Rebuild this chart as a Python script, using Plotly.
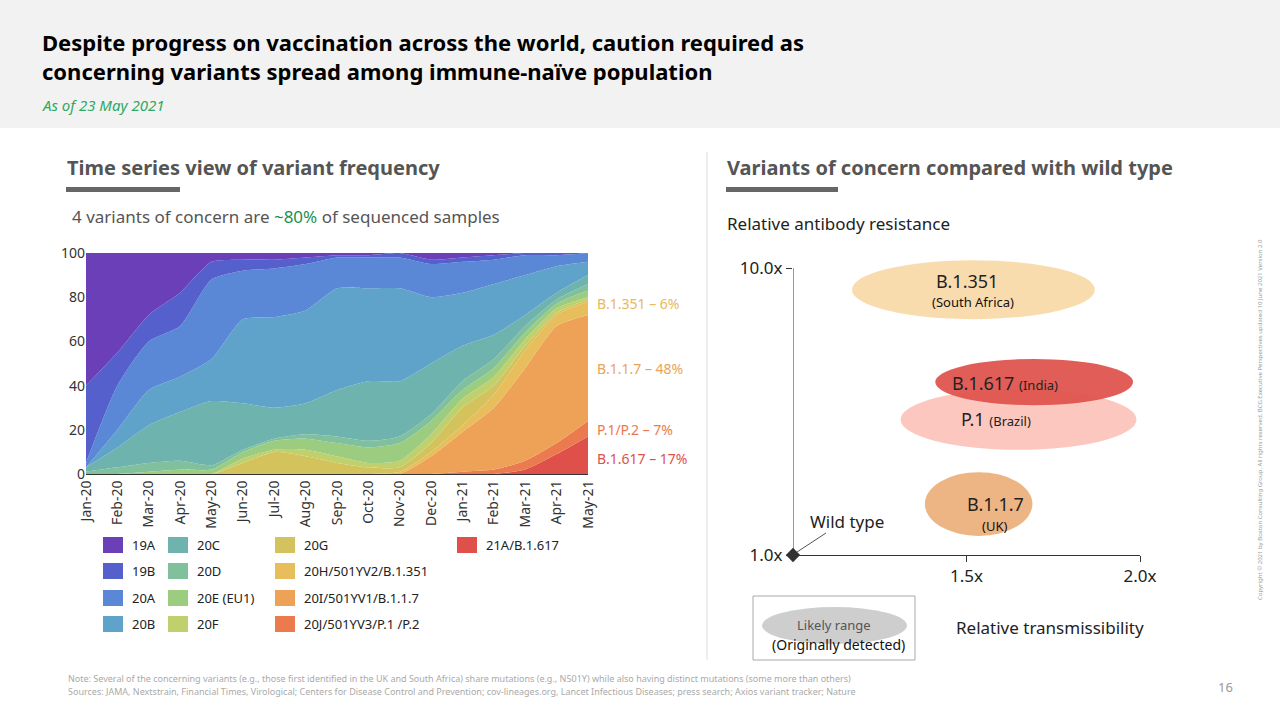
import plotly.graph_objects as go

W, H = 1280, 720
def px(x): return x / W
def py(y): return 1 - y / H

months = ["Jan-20","Feb-20","Mar-20","Apr-20","May-20","Jun-20","Jul-20","Aug-20","Sep-20","Oct-20",
          "Nov-20","Dec-20","Jan-21","Feb-21","Mar-21","Apr-21","May-21"]
# cumulative top boundary of each variant band (%), bottom to top
top_21A = [0,0,0,0,0,0,0,0,0,0,0,0,0,0,2,9,17]
top_20J = [0,0,0,0,0,0,0,0,0,0,0,0,1,2,6,14,24]
top_20I = [0,0,0,0,0,0,0,0,0,0,0,8,19,30,48,67,72]
top_20H = [0,0,0,0,0,0,0,0,0,0,1,10,22,36,56,72,78]
top_20G = [0,0,0,0,0,5,10,8,5,3,3,14,30,40,58,73,79]
top_20F = [0,0,0,0,0,7,11,11,8,5,6,18,34,44,61,75,80]
top_20E = [0,0,1,2,2,10,15,16,14,12,14,24,38,48,64,77,83]
top_20D = [1,3,5,6,4,11,16,18,17,15,17,27,42,52,67,79,86]
top_20C = [3,12,22,28,33,32,30,32,38,42,42,50,58,63,72,82,90]
top_20B = [3,20,38,44,52,70,71,74,84,84,84,80,82,86,90,94,96]
top_20A = [5,40,60,67,88,92,93,95,98,98,98,95,96,97,99,99,100]
top_19B = [40,55,72,82,96,97,97,98,99,99,100,97,98,99,100,100,100]
top_19A = [100]*17

series = [
    ("21A/B.1.617", top_21A, "#e0504a"),
    ("20J/501YV3/P.1 /P.2", top_20J, "#eb7a4e"),
    ("20I/501YV1/B.1.1.7", top_20I, "#eda257"),
    ("20H/501YV2/B.1.351", top_20H, "#e8bd5c"),
    ("20G", top_20G, "#d4c35c"),
    ("20F", top_20F, "#bfd06c"),
    ("20E (EU1)", top_20E, "#9ccc80"),
    ("20D", top_20D, "#80c09c"),
    ("20C", top_20C, "#6fb3ae"),
    ("20B", top_20B, "#5fa3ca"),
    ("20A", top_20A, "#5a87d6"),
    ("19B", top_19B, "#5660cc"),
    ("19A", top_19A, "#6a3fb8"),
]

# right panel: variant ranges (transmissibility x range, resistance y range)
variants = ["B.1.351", "P.1", "B.1.617", "B.1.1.7"]
trans_lo = [1.17, 1.31, 1.41, 1.38]
trans_hi = [1.87, 1.99, 1.98, 1.69]
resist_lo = [8.4, 4.3, 5.7, 1.6]
resist_hi = [10.25, 6.2, 7.15, 3.6]
ell_colors = ["rgba(247,205,140,0.7)", "rgba(250,180,170,0.75)", "rgba(222,80,74,0.92)", "rgba(236,176,125,0.95)"]

fig = go.Figure()
zero = [0]*17
fig.add_trace(go.Scatter(x=months, y=zero, mode="lines", line=dict(width=0), showlegend=False, hoverinfo="skip"))
for name, vals, col in series:
    fig.add_trace(go.Scatter(x=months, y=vals, mode="lines", line=dict(width=0, shape="spline", smoothing=0.6),
                             fill="tonexty", fillcolor=col, name=name, showlegend=False))

fig.add_trace(go.Scatter(x=[1.0], y=[1.0], xaxis="x2", yaxis="y2", mode="markers", cliponaxis=False,
                         marker=dict(symbol="diamond", size=11, color="#333"), showlegend=False))

shapes = []
for i in range(len(variants)):
    shapes.append(dict(type="circle", xref="x2", yref="y2", x0=trans_lo[i], x1=trans_hi[i],
                       y0=resist_lo[i], y1=resist_hi[i], fillcolor=ell_colors[i], line=dict(width=0), layer="below"))
shapes.append(dict(type="rect", xref="paper", yref="paper", x0=0, x1=1, y0=py(128), y1=1,
                   fillcolor="#f2f2f2", line=dict(width=0), layer="below"))
shapes.append(dict(type="rect", xref="paper", yref="paper", x0=px(66), x1=px(180), y0=py(192), y1=py(187),
                   fillcolor="#666", line=dict(width=0)))
shapes.append(dict(type="rect", xref="paper", yref="paper", x0=px(726), x1=px(838), y0=py(192), y1=py(187),
                   fillcolor="#666", line=dict(width=0)))
shapes.append(dict(type="line", xref="paper", yref="paper", x0=px(707), x1=px(707), y0=py(152), y1=py(660),
                   line=dict(color="#ddd", width=1)))
shapes.append(dict(type="line", xref="paper", yref="paper", x0=px(797), x1=px(826), y0=py(552), y1=py(533),
                   line=dict(color="#555", width=1)))
shapes.append(dict(type="rect", xref="paper", yref="paper", x0=px(753), x1=px(915), y0=py(660), y1=py(596),
                   fillcolor="white", line=dict(color="#aaa", width=1), layer="below"))
shapes.append(dict(type="circle", xref="paper", yref="paper", x0=px(762), x1=px(907), y0=py(644), y1=py(607),
                   fillcolor="rgba(165,165,165,0.55)", line=dict(width=0), layer="below"))

F = "Noto Sans"
ann = []
def T(x, y, text, size=14, color="#333", xa="left", ya="middle", bold=False):
    if bold: text = "<b>" + text + "</b>"
    ann.append(dict(x=px(x), y=py(y), xref="paper", yref="paper", text=text, showarrow=False, align="left",
                    xanchor=xa, yanchor=ya, font=dict(family=F, size=size, color=color)))

T(40, 57, "<b>Despite progress on vaccination across the world, caution required as<br>concerning variants spread among immune-naïve population</b>", 22, "#000")
T(40, 105, "<i>As of 23 May 2021</i>", 15, "#2fa860")
T(65, 167, "Time series view of variant frequency", 20, "#555", bold=True)
T(725, 167, "Variants of concern compared with wild type", 20, "#555", bold=True)
T(70, 216, "4 variants of concern are <span style='color:#1a8f50'>~80%</span> of sequenced samples", 17, "#555")
T(725, 223, "Relative antibody resistance", 17, "#222")
T(1050, 627, "Relative transmissibility", 17, "#222", xa="center")
T(808, 521, "Wild type", 17, "#222")
T(834, 625, "Likely range", 13, "#555", xa="center")
T(838, 644, "(Originally detected)", 14, "#111", xa="center")

T(595, 303, "B.1.351 – 6%", 14, "#e8b85a")
T(595, 368, "B.1.1.7 – 48%", 14, "#eda257")
T(595, 429, "P.1/P.2 – 7%", 14, "#eb7a4e")
T(595, 458, "B.1.617 – 17%", 14, "#e0504a")

T(967, 281, "B.1.351", 18, "#222", xa="center")
T(973, 302, "(South Africa)", 13, "#111", xa="center")
T(1005, 383, "B.1.617 <span style='font-size:13px'>(India)</span>", 18, "#222", xa="center")
T(996, 419, "P.1 <span style='font-size:13px'>(Brazil)</span>", 18, "#222", xa="center")
T(995, 504, "B.1.1.7", 18, "#222", xa="center")
T(994, 526, "(UK)", 13, "#111", xa="center")

leg = [
    (103, 545, "#6a3fb8", "19A"), (103, 571, "#5660cc", "19B"), (103, 598, "#5a87d6", "20A"), (103, 624, "#5fa3ca", "20B"),
    (168, 545, "#6fb3ae", "20C"), (168, 571, "#80c09c", "20D"), (168, 598, "#9ccc80", "20E (EU1)"), (168, 624, "#bfd06c", "20F"),
    (275, 545, "#d4c35c", "20G"), (275, 571, "#e8bd5c", "20H/501YV2/B.1.351"), (275, 598, "#eda257", "20I/501YV1/B.1.1.7"),
    (275, 624, "#eb7a4e", "20J/501YV3/P.1 /P.2"), (457, 545, "#e0504a", "21A/B.1.617"),
]
for x, y, c, t in leg:
    shapes.append(dict(type="rect", xref="paper", yref="paper", x0=px(x), x1=px(x+20), y0=py(y+8), y1=py(y-8),
                       fillcolor=c, line=dict(width=0)))
    T(x+27, y, t, 13, "#222")

T(66, 678, "Note: Several of the concerning variants (e.g., those first identified in the UK and South Africa) share mutations (e.g., N501Y) while also having distinct mutations (some more than others)", 9, "#aaa")
T(66, 691, "Sources: JAMA, Nextstrain, Financial Times, Virological; Centers for Disease Control and Prevention; cov-lineages.org, Lancet Infectious Diseases; press search; Axios variant tracker; Nature", 9, "#aaa")
T(1225, 687, "16", 13, "#999", xa="center")
ann.append(dict(x=px(1266), y=py(420), xref="paper", yref="paper", textangle=-90, showarrow=False,
                text="Copyright © 2021 by Boston Consulting Group. All rights reserved. BCG Executive Perspectives updated 10 June 2021 Version 2.0",
                font=dict(family=F, size=6, color="#999")))

fig.update_layout(
    width=W, height=H, margin=dict(l=0, r=0, t=0, b=0, autoexpand=False), paper_bgcolor="white", plot_bgcolor="white",
    showlegend=False, shapes=shapes, annotations=ann, font=dict(family=F),
    xaxis=dict(domain=[px(86), px(588)], anchor="y", tickangle=-90, showgrid=False, showline=True, automargin=False,
               linecolor="#333", linewidth=1, tickfont=dict(size=14, color="#333"), range=[0, 16]),
    yaxis=dict(domain=[py(474), py(253)], anchor="x", range=[0, 100], tickvals=[0,20,40,60,80,100], automargin=False,
               showgrid=False, tickfont=dict(size=14, color="#333"), zeroline=False),
    xaxis2=dict(domain=[px(793), px(1140)], anchor="y2", range=[1.0, 2.0], tickvals=[1.5, 2.0], automargin=False,
                ticktext=["1.5x", "2.0x"], ticks="outside", ticklen=6, tickcolor="#333", showgrid=False,
                showline=True, linecolor="#333", zeroline=False, tickfont=dict(size=17, color="#222")),
    yaxis2=dict(domain=[py(555), py(249)], anchor="x2", range=[1.0, 10.6], tickvals=[1.0, 10.0], automargin=False,
                ticktext=["1.0x", "10.0x"], ticks="outside", ticklen=6, tickcolor="#333", showgrid=False,
                showline=False, zeroline=False, tickfont=dict(size=17, color="#222")),
)
fig.add_shape(type="line", xref="x2", yref="y2", x0=1.0, x1=1.0, y0=1.0, y1=10.0, line=dict(color="#333", width=1))
fig.write_html("out.html", config={"displayModeBar": False},
               post_script="document.body.style.margin='0';document.body.style.padding='0';")
